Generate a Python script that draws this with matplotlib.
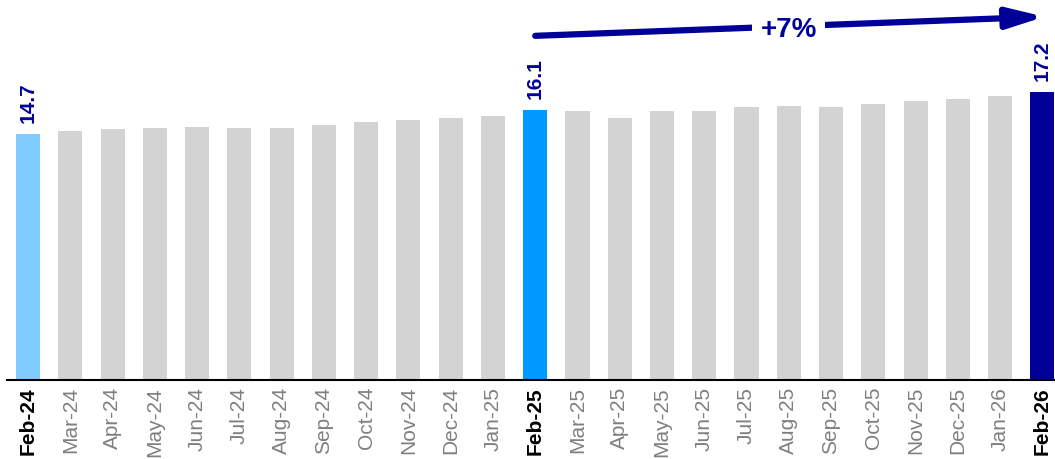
import matplotlib
matplotlib.use("Agg")
import matplotlib.pyplot as plt

months = ["Feb-24", "Mar-24", "Apr-24", "May-24", "Jun-24", "Jul-24", "Aug-24", "Sep-24",
          "Oct-24", "Nov-24", "Dec-24", "Jan-25", "Feb-25", "Mar-25", "Apr-25", "May-25",
          "Jun-25", "Jul-25", "Aug-25", "Sep-25", "Oct-25", "Nov-25", "Dec-25", "Jan-26", "Feb-26"]
values = [14.7, 14.88, 14.99, 15.05, 15.11, 15.07, 15.07, 15.21, 15.40, 15.56, 15.63, 15.79,
          16.1, 16.06, 15.66, 16.06, 16.04, 16.29, 16.36, 16.32, 16.51, 16.66, 16.79, 16.96, 17.2]
highlight = {"Feb-24": "#80CCFF", "Feb-25": "#0099FF", "Feb-26": "#000099"}
grey = "#D3D3D3"
navy = "#000099"

plt.rcParams["font.family"] = ["Liberation Sans", "DejaVu Sans"]
fig = plt.figure(figsize=(10.55, 4.59), dpi=100)
ax = fig.add_axes([7 / 1055, 79 / 459, 1048 / 1055, 380 / 459])

x = list(range(len(months)))
colors = [highlight.get(m, grey) for m in months]
ax.bar(x, values, width=0.57, color=colors, edgecolor="none", zorder=2)

for i, (m, v) in enumerate(zip(months, values)):
    if m in highlight:
        ax.annotate(f"{v:.1f}", (i, v), xytext=(0, 8), textcoords="offset points",
                    rotation=90, ha="center", va="bottom", fontsize=15,
                    fontweight="bold", color=navy)

ax.set_xlim(-0.5, 24.3)
ax.set_ylim(0, 22.7)
ax.set_xticks(x)
ax.set_xticklabels(months, rotation=90)
for lab, m in zip(ax.get_xticklabels(), months):
    lab.set_fontsize(15)
    if m in highlight:
        lab.set_fontweight("bold")
        lab.set_color("black")
    else:
        lab.set_color("#7F7F7F")
ax.tick_params(axis="x", length=0, pad=5)
ax.set_yticks([])
for s in ["top", "right", "left"]:
    ax.spines[s].set_visible(False)
ax.spines["bottom"].set_linewidth(1.5)
ax.spines["bottom"].set_color("black")

# growth arrow
i0, i1 = months.index("Feb-25"), months.index("Feb-26")
y0, y1 = 20.56, 21.7
ax.annotate("", xy=(i1 + 0.05, y1), xytext=(i0, y0),
            arrowprops=dict(arrowstyle="-|>,head_length=2.2,head_width=0.62",
                            color=navy, lw=4.5, shrinkA=0, shrinkB=0),
            annotation_clip=False)
growth = (values[i1] / values[i0] - 1) * 100
xm = i0 + (i1 - i0) * 0.5
ym = y0 + (y1 - y0) * 0.5
ax.text(xm, ym - 0.2, f"+{growth:.0f}%", ha="center", va="center", fontsize=20,
        fontweight="bold", color=navy,
        bbox=dict(boxstyle="square,pad=0.3", fc="white", ec="none"), zorder=5)

fig.savefig("out.png", dpi=100)
